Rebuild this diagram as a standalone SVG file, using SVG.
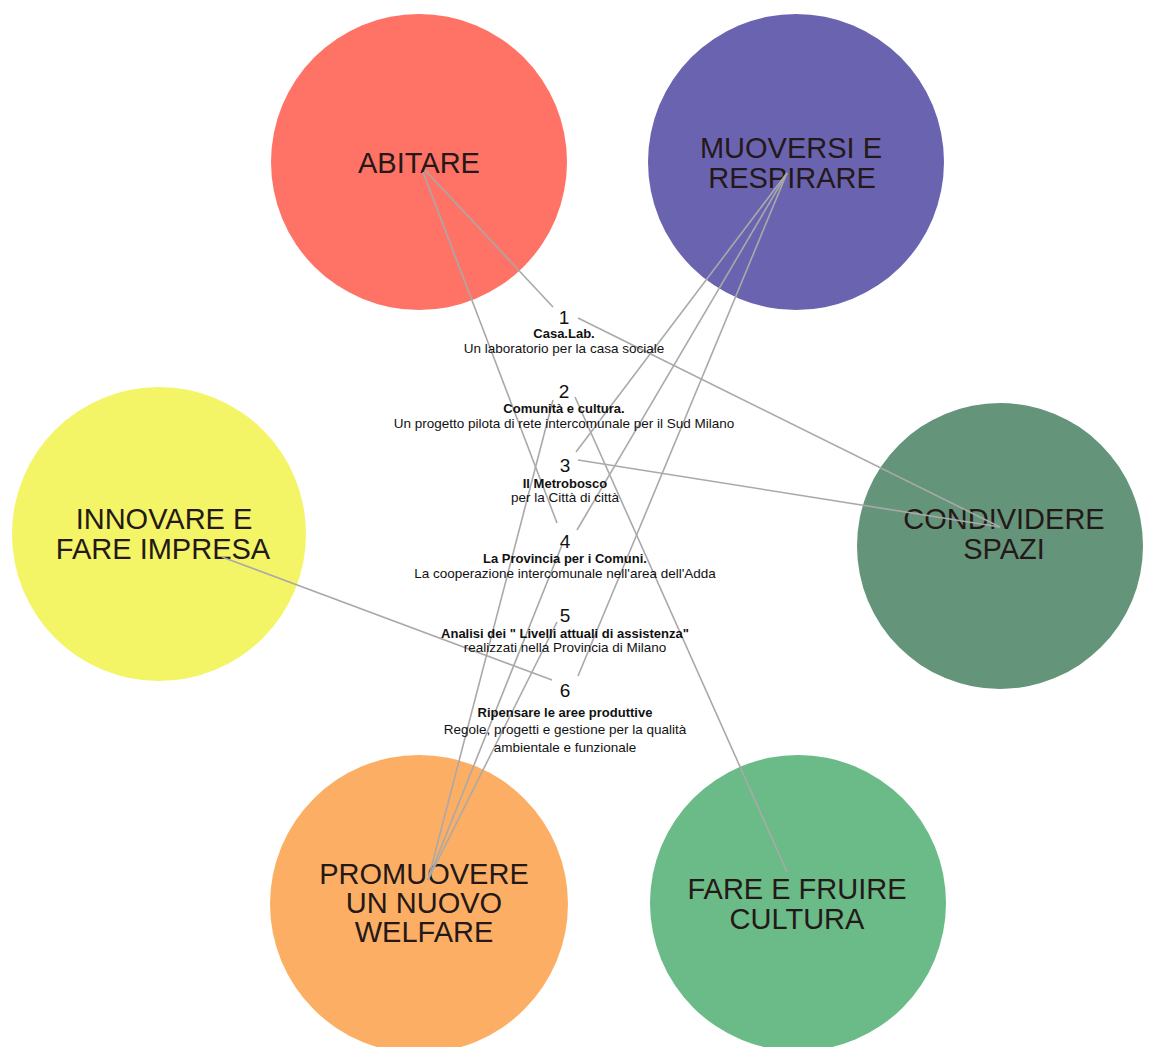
<svg xmlns="http://www.w3.org/2000/svg" width="1150" height="1047" viewBox="0 0 1150 1047">
<style>
.theme{font-family:"Liberation Sans",Arial,sans-serif;font-size:29px;fill:#241818;text-anchor:middle}
.num{font-family:"Liberation Sans",Arial,sans-serif;font-size:19px;fill:#111;text-anchor:middle}
.ttl{font-family:"Liberation Sans",Arial,sans-serif;font-size:13px;font-weight:bold;fill:#111;text-anchor:middle}
.sub{font-family:"Liberation Sans",Arial,sans-serif;font-size:13.5px;fill:#111;text-anchor:middle}
.conn line{stroke:#a9a9a9;stroke-width:1.6;fill:none}
</style>
<rect width="1150" height="1047" fill="#ffffff"/>
<g id="theme-abitare">
<circle cx="419" cy="162" r="148" fill="#ff7366"/>
<text class="theme" x="419" y="173">ABITARE</text>
</g>
<g id="theme-muoversi">
<circle cx="796" cy="162" r="148" fill="#6a64b0"/>
<text class="theme" x="791" y="158">MUOVERSI E</text>
<text class="theme" x="792" y="188">RESPIRARE</text>
</g>
<g id="theme-innovare">
<circle cx="159" cy="534" r="147" fill="#f3f466"/>
<text class="theme" x="164" y="529">INNOVARE E</text>
<text class="theme" x="163" y="559">FARE IMPRESA</text>
</g>
<g id="theme-condividere">
<circle cx="1000" cy="546" r="143" fill="#64957a"/>
<text class="theme" x="1004" y="529">CONDIVIDERE</text>
<text class="theme" x="1004" y="559">SPAZI</text>
</g>
<g id="theme-promuovere">
<circle cx="419" cy="904" r="149" fill="#fcaf64"/>
<text class="theme" x="424" y="884">PROMUOVERE</text>
<text class="theme" x="424" y="913">UN NUOVO</text>
<text class="theme" x="424" y="942">WELFARE</text>
</g>
<g id="theme-fare">
<circle cx="798" cy="903" r="148" fill="#6abb87"/>
<text class="theme" x="797" y="899">FARE E FRUIRE</text>
<text class="theme" x="797" y="929">CULTURA</text>
</g>
<g id="connectors" class="conn">
<line x1="425" y1="170" x2="553" y2="307"/>
<line x1="578" y1="318" x2="1000" y2="527"/>
<line x1="423" y1="172" x2="557" y2="523"/>
<line x1="787" y1="173" x2="576" y2="452"/>
<line x1="787" y1="173" x2="577" y2="530"/>
<line x1="787" y1="173" x2="578" y2="676"/>
<line x1="578" y1="460" x2="1000" y2="527"/>
<line x1="575" y1="397" x2="787" y2="872"/>
<line x1="222" y1="557" x2="552" y2="680"/>
<line x1="428" y1="880" x2="553" y2="400"/>
<line x1="428" y1="880" x2="562" y2="545"/>
<line x1="428" y1="880" x2="557" y2="622"/>
</g>
<g id="project-1">
<text class="num" x="564" y="324">1</text>
<text class="ttl" x="564" y="338">Casa.Lab.</text>
<text class="sub" x="564" y="353">Un laboratorio per la casa sociale</text>
</g>
<g id="project-2">
<text class="num" x="564" y="398">2</text>
<text class="ttl" x="564" y="413">Comunità e cultura.</text>
<text class="sub" x="564" y="428">Un progetto pilota di rete intercomunale per il Sud Milano</text>
</g>
<g id="project-3">
<text class="num" x="565" y="472">3</text>
<text class="ttl" x="565" y="488">Il Metrobosco</text>
<text class="sub" x="565" y="502">per la Città di città</text>
</g>
<g id="project-4">
<text class="num" x="565" y="548">4</text>
<text class="ttl" x="565" y="563">La Provincia per i Comuni.</text>
<text class="sub" x="565" y="578">La cooperazione intercomunale nell'area dell'Adda</text>
</g>
<g id="project-5">
<text class="num" x="565" y="622">5</text>
<text class="ttl" x="565" y="638">Analisi dei " Livelli attuali di assistenza"</text>
<text class="sub" x="565" y="652">realizzati nella Provincia di Milano</text>
</g>
<g id="project-6">
<text class="num" x="565" y="697">6</text>
<text class="ttl" x="565" y="717">Ripensare le aree produttive</text>
<text class="sub" x="565" y="734">Regole, progetti e gestione per la qualità</text>
<text class="sub" x="565" y="752">ambientale e funzionale</text>
</g>
</svg>
